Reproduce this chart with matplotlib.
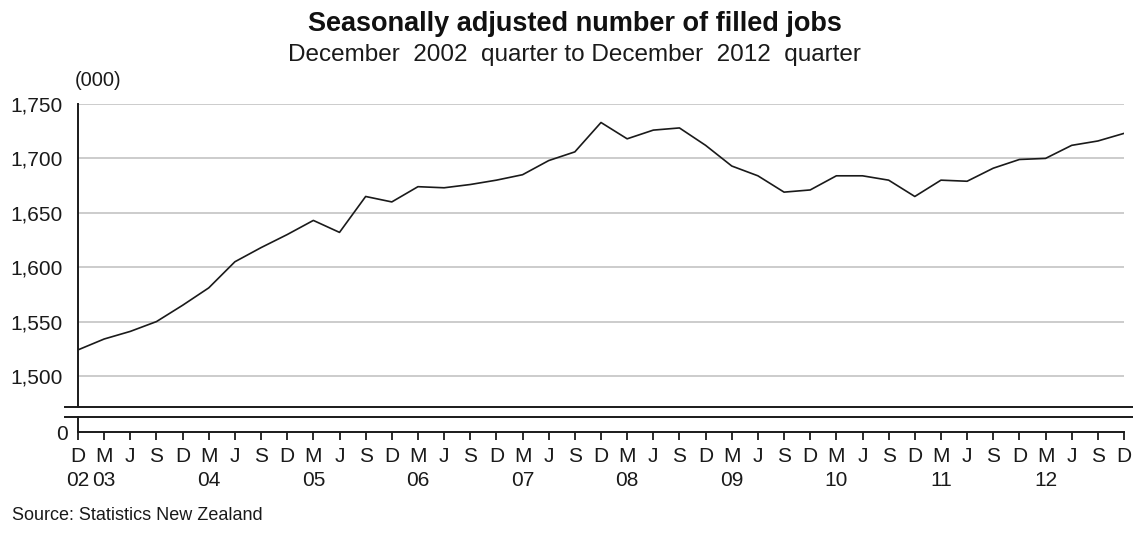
import matplotlib.pyplot as plt
import matplotlib.transforms as mtransforms
from matplotlib.lines import Line2D
import numpy as np

plt.rcParams["font.family"] = ["Liberation Sans", "DejaVu Sans"]

# quarters from Dec 2002 to Dec 2012
months = ["D", "M", "J", "S"] * 10 + ["D"]
years = ["02", "03", "04", "05", "06", "07", "08", "09", "10", "11", "12"]
year_pos = [0, 1, 5, 9, 13, 17, 21, 25, 29, 33, 37]

# filled jobs (000)
jobs = [
    1524, 1534, 1541, 1550, 1565, 1581, 1605, 1618, 1630, 1643,
    1632, 1665, 1660, 1674, 1673, 1676, 1680, 1685, 1698, 1706,
    1733, 1718, 1726, 1728, 1712, 1693, 1684, 1669, 1671, 1684,
    1684, 1680, 1665, 1680, 1679, 1691, 1699, 1700, 1712, 1716,
    1723,
]
yticks = [1500, 1550, 1600, 1650, 1700, 1750]

W, H = 1133, 546
fig = plt.figure(figsize=(W / 100, H / 100), dpi=100)
INK = "#1a1a1a"


def fx(px):
    return px / W


def fy(py):
    return 1 - py / H


x0, x1 = 78, 1124
top_y, brk1, brk2, base = 104, 407, 417, 432

# upper part
ax = fig.add_axes([fx(x0), fy(brk1), fx(x1 - x0), (brk1 - top_y) / H])
x = np.arange(len(jobs))
ax.plot(x, jobs, color=INK, lw=1.2, zorder=3)
ax.set_xlim(0, len(jobs) - 1)
ylo = 1750 - (brk1 - top_y) * 50 / 54.4
ax.set_ylim(ylo, 1750)
ax.set_yticks(yticks)
ax.set_yticklabels([f"{v:,}" for v in yticks])
ax.tick_params(axis="y", length=0, pad=11, labelsize=15, colors=INK)
ax.set_xticks([])
for v in yticks:
    ax.axhline(v, color="#c8c8c8", lw=1.3, zorder=1)
for s in ["top", "right", "bottom"]:
    ax.spines[s].set_visible(False)
ax.spines["left"].set_linewidth(1.4)
ax.spines["left"].set_color(INK)

# lower part with zero
ax2 = fig.add_axes([fx(x0), fy(base), fx(x1 - x0), (base - brk2) / H])
ax2.set_xlim(0, len(jobs) - 1)
ax2.set_ylim(0, 1)
ax2.set_yticks([0])
ax2.set_yticklabels(["0"])
ax2.set_xticks(x)
ax2.set_xticklabels(months)
ax2.tick_params(axis="y", length=0, pad=7, labelsize=15, colors=INK)
ax2.tick_params(axis="x", length=6, width=1.3, direction="out", pad=5,
                labelsize=15, colors=INK)
for s in ["top", "right"]:
    ax2.spines[s].set_visible(False)
for s in ["left", "bottom"]:
    ax2.spines[s].set_linewidth(1.4)
    ax2.spines[s].set_color(INK)

trans = mtransforms.blended_transform_factory(ax2.transData, fig.transFigure)
for yr, p in zip(years, year_pos):
    ax2.text(p, fy(481), yr, transform=trans, ha="center", va="center",
             fontsize=15, color=INK)

# axis break lines
for py in (brk1, brk2):
    fig.add_artist(Line2D([fx(65), 1], [fy(py), fy(py)], color=INK, lw=1.4))

fig.text(fx(575), fy(24), "Seasonally adjusted number of filled jobs",
         ha="center", va="center", fontsize=19.5, fontweight="bold", color="#111111")
fig.text(fx(574), fy(55), "December  2002  quarter to December  2012  quarter",
         ha="center", va="center", fontsize=17.5, color=INK)
fig.text(fx(75), fy(81), "(000)", ha="left", va="center", fontsize=14.5, color=INK)
fig.text(fx(12), fy(515), "Source: Statistics New Zealand", ha="left", va="center",
         fontsize=13, color=INK)

fig.savefig("out.png", dpi=100)
